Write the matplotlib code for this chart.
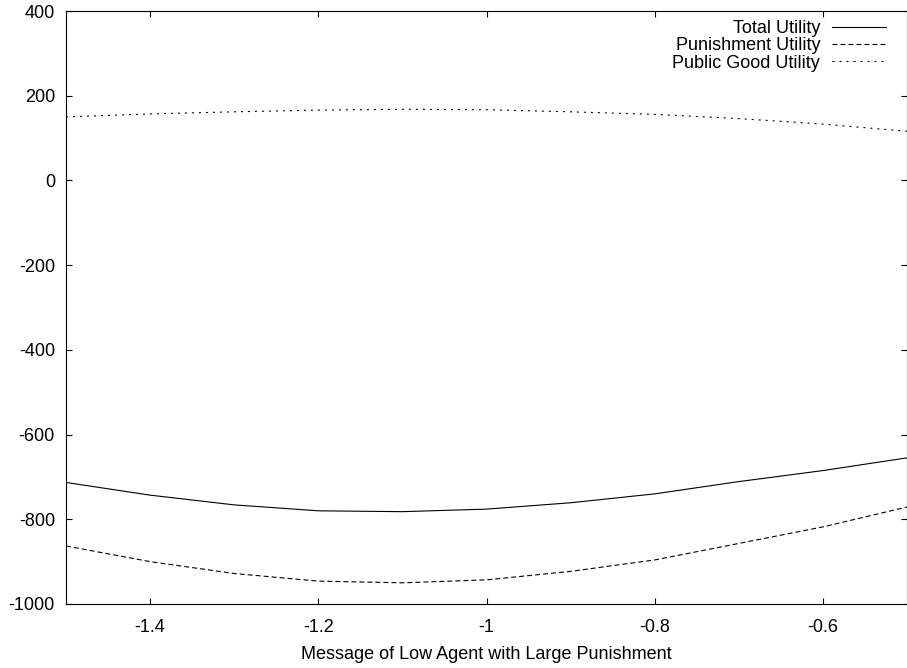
import numpy as np
import matplotlib
matplotlib.use("Agg")
import matplotlib.pyplot as plt
from matplotlib.ticker import FuncFormatter

# --------- data ---------------------------------
message = [-1.5, -1.4, -1.3, -1.2, -1.1, -1.0, -0.9, -0.8, -0.7, -0.6, -0.5]
public_good = [150, 157, 162, 166, 168, 167, 162, 156, 146, 133, 116]
punishment = [-863, -900, -928, -946, -950, -943, -923, -896, -857, -818, -771]
total = [-713, -743, -766, -780, -782, -776, -761, -740, -711, -685, -655]

x_ticks = [-1.4, -1.2, -1.0, -0.8, -0.6]
y_ticks = [-1000, -800, -600, -400, -200, 0, 200, 400]

plt.rcParams["font.family"] = ["Liberation Sans", "DejaVu Sans"]
plt.rcParams["axes.unicode_minus"] = False
FS = 13

fig = plt.figure(figsize=(9.07, 6.68), dpi=100)
ax = fig.add_axes([66 / 907, 1 - 604 / 668, 841 / 907, 593 / 668])

lw = 0.8
ax.plot(message, total, color="black", lw=lw, label="Total Utility")
ax.plot(message, punishment, color="black", lw=lw, dashes=(4.5, 2.7),
        label="Punishment Utility")
ax.plot(message, public_good, color="black", lw=lw, dashes=(1.8, 4.5),
        label="Public Good Utility")

ax.set_xlim(-1.5, -0.5)
ax.set_ylim(-1000, 400)
ax.set_xticks(x_ticks)
ax.set_yticks(y_ticks)
ax.xaxis.set_major_formatter(FuncFormatter(lambda v, p: "%g" % v))

for s in ax.spines.values():
    s.set_linewidth(0.8)
ax.tick_params(axis="both", direction="in", length=4.5, width=0.8,
               top=True, right=True, labelsize=FS)
ax.tick_params(axis="y", pad=8)
ax.tick_params(axis="x", pad=11)

ax.set_xlabel("Message of Low Agent with Large Punishment", fontsize=FS,
              labelpad=7)

leg = ax.legend(loc="upper right", bbox_to_anchor=(886 / 907, 1 - 20 / 668),
                bbox_transform=fig.transFigure, frameon=False,
                markerfirst=False, fontsize=FS, handlelength=3.0,
                handletextpad=0.65, labelspacing=0.02, borderpad=0,
                borderaxespad=0)

fig.savefig("out.png", dpi=100)
